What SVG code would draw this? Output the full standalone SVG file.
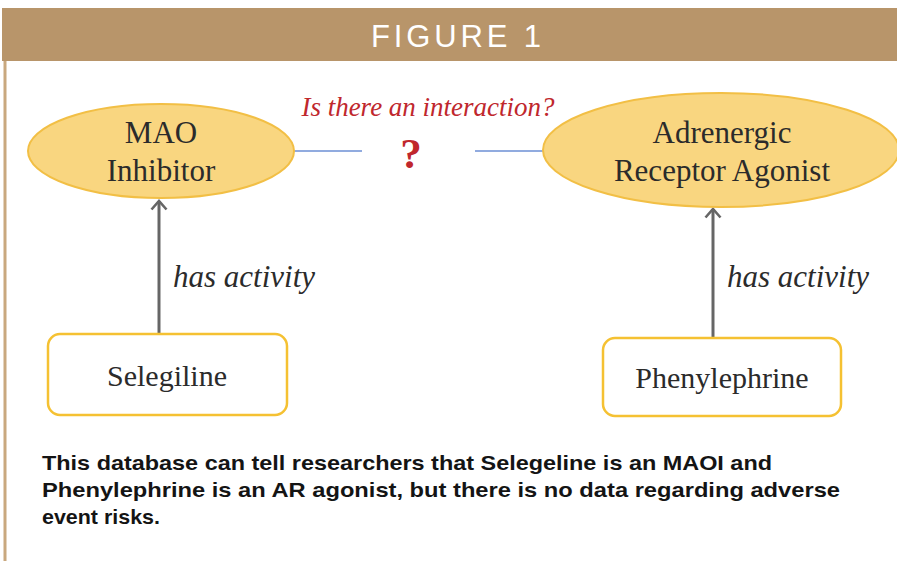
<svg xmlns="http://www.w3.org/2000/svg" width="897" height="561" viewBox="0 0 897 561">
  <style>
    .concept { fill: #f9d680; stroke: #f2bf45; stroke-width: 2; }
    .drug { fill: #ffffff; stroke: #f5c132; stroke-width: 2.5; }
    .label { font-family: "Liberation Serif", "Times New Roman", serif; fill: #2b2b2b; text-anchor: middle; }
    .rel { font-family: "Liberation Serif", "Times New Roman", serif; font-style: italic; fill: #2b2b2b; font-size: 31px; }
    .link { stroke: #6d8fd4; stroke-width: 1.5; fill: none; }
    .edge { stroke: #666666; stroke-width: 3; fill: none; }
    .note { font-family: "Liberation Sans", Arial, sans-serif; font-weight: bold; font-size: 21px; fill: #141414; }
  </style>
  <defs>
    <!-- open chevron head, drawn pointing along +x -->
    <marker id="chevron" viewBox="0 0 12 18" refX="10" refY="9" markerWidth="12" markerHeight="18" markerUnits="userSpaceOnUse" orient="auto">
      <polyline points="1.5,1.5 10,9 1.5,16.5" fill="none" stroke="#666666" stroke-width="2.6"/>
    </marker>
  </defs>

  <rect x="0" y="0" width="897" height="561" fill="#ffffff"/>

  <!-- frame: title band and left rule -->
  <g id="frame">
    <rect x="3.5" y="8" width="3" height="553" fill="#c9a87e"/>
    <rect x="2" y="8" width="895" height="53" fill="#b8956a"/>
    <text x="456" y="47" font-family="Liberation Sans, Arial, sans-serif" font-size="31" fill="#ffffff" text-anchor="middle" textLength="170" lengthAdjust="spacing">FIGURE 1</text>
  </g>

  <!-- connectors -->
  <g id="connectors">
    <line class="link" x1="293" y1="151" x2="362" y2="151"/>
    <line class="link" x1="475" y1="151" x2="544" y2="151"/>
    <line class="edge" x1="159" y1="333" x2="159" y2="201" marker-end="url(#chevron)"/>
    <line class="edge" x1="713" y1="338" x2="713" y2="209" marker-end="url(#chevron)"/>
  </g>

  <g id="interaction-label">
    <text x="428" y="116" font-family="Liberation Serif, Times New Roman, serif" font-style="italic" font-size="27" fill="#c0272d" text-anchor="middle">Is there an interaction?</text>
    <text x="411" y="168" font-family="Liberation Serif, Times New Roman, serif" font-weight="bold" font-size="43" fill="#c0272d" text-anchor="middle">?</text>
  </g>

  <g id="edge-labels">
    <text class="rel" x="173" y="287">has activity</text>
    <text class="rel" x="727" y="287">has activity</text>
  </g>

  <g id="mao-inhibitor">
    <ellipse class="concept" cx="161" cy="151" rx="133" ry="47"/>
    <text class="label" x="161" y="143" font-size="31">MAO</text>
    <text class="label" x="161" y="181" font-size="31">Inhibitor</text>
  </g>

  <g id="adrenergic-agonist">
    <ellipse class="concept" cx="721" cy="150" rx="178" ry="57"/>
    <text class="label" x="722" y="143" font-size="31">Adrenergic</text>
    <text class="label" x="722" y="181" font-size="31">Receptor Agonist</text>
  </g>

  <g id="selegiline">
    <rect class="drug" x="48" y="334" width="239" height="81" rx="12"/>
    <text class="label" x="167" y="386" font-size="30">Selegiline</text>
  </g>

  <g id="phenylephrine">
    <rect class="drug" x="603" y="338" width="238" height="78" rx="12"/>
    <text class="label" x="722" y="388" font-size="30">Phenylephrine</text>
  </g>

  <g id="caption">
    <text class="note" x="42" y="470" textLength="730" lengthAdjust="spacingAndGlyphs">This database can tell researchers that Selegeline is an MAOI and</text>
    <text class="note" x="42" y="497" textLength="798" lengthAdjust="spacingAndGlyphs">Phenylephrine is an AR agonist, but there is no data regarding adverse</text>
    <text class="note" x="42" y="524" textLength="118" lengthAdjust="spacingAndGlyphs">event risks.</text>
  </g>
</svg>
